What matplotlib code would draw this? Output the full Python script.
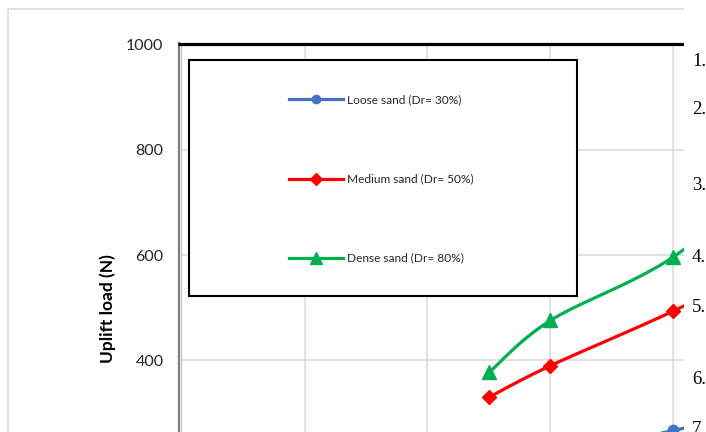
import numpy as np
import matplotlib
matplotlib.use("Agg")
import matplotlib.pyplot as plt
from matplotlib.lines import Line2D
from matplotlib.patches import Rectangle

# ---- data ----
embed_ratio = [2.5, 3.0, 4.0, 5.0]
loose_load = [160, 200, 267, 300]
medium_load = [330, 390, 494, 610]
dense_load = [377, 476, 597, 790]
series_names = ["Loose sand (Dr= 30%)", "Medium sand (Dr= 50%)", "Dense sand (Dr= 80%)"]
y_ticks = [400, 600, 800, 1000]
list_numbers = ["1.", "2.", "3.", "4.", "5.", "6.", "7."]

COLORS = ["#4472C4", "#FF0000", "#00B050"]
MARKERS = ["o", "D", "^"]
MSIZES = [7.5, 7.5, 10]

W, H = 706, 432
fig = plt.figure(figsize=(W / 100, H / 100), dpi=100)
fig.patch.set_facecolor("white")


def fx(px):
    return px / W


def fy(py):
    return 1 - py / H


def smooth(xs, ys, n=40):
    """Catmull-Rom style Bezier smoothing through every point."""
    P = np.column_stack([xs, ys]).astype(float)
    m = len(P)
    out = []
    for i in range(m - 1):
        p0 = P[i - 1] if i > 0 else P[i]
        p1, p2 = P[i], P[i + 1]
        p3 = P[i + 2] if i + 2 < m else P[i + 1]
        c1 = p1 + (p2 - p0) / 6
        c2 = p2 - (p3 - p1) / 6
        t = np.linspace(0, 1, n)[:, None]
        seg = ((1 - t) ** 3) * p1 + 3 * ((1 - t) ** 2) * t * c1 + 3 * (1 - t) * t ** 2 * c2 + t ** 3 * p2
        out.append(seg if i == 0 else seg[1:])
    seg = np.vstack(out)
    return seg[:, 0], seg[:, 1]


# main plotting axes (extends past the lower/right figure edges)
x0_px, unit_px = 181.5, 123.0
top_px, per200_px = 44.8, 105.2
bottom_px = top_px + 5 * per200_px
ax = fig.add_axes([fx(x0_px), fy(bottom_px), 6 * unit_px / W, (bottom_px - top_px) / H])
ax.set_xlim(0, 6)
ax.set_ylim(0, 1000)
ax.set_yticks(y_ticks)
ax.set_xticks([1, 2, 3, 4, 5])
ax.tick_params(axis="x", length=0, labelbottom=False)
ax.tick_params(axis="y", length=0, pad=13, labelsize=11.5, labelcolor="#262626")
for lab in ax.get_yticklabels():
    lab.set_fontfamily("Lato")
ax.grid(True, color="#d9d9d9", linewidth=1.1)
ax.set_axisbelow(True)
for s in ["left", "right", "bottom", "top"]:
    ax.spines[s].set_visible(False)

for ys, c, mk, ms, name in zip([loose_load, medium_load, dense_load], COLORS, MARKERS, MSIZES, series_names):
    sx, sy = smooth(embed_ratio, ys)
    ax.plot(sx, sy, color=c, lw=2.3, solid_capstyle="round", zorder=3)
    ax.plot(embed_ratio, ys, linestyle="none", marker=mk, ms=ms, color=c, zorder=4, label=name)

ax.set_ylabel("Uplift load (N)", fontfamily="Lato", fontweight="bold", fontsize=12.5,
              va="center", color="black")
ax.yaxis.set_label_coords((107.5 - x0_px) / (6 * unit_px), (bottom_px - 308.5) / (bottom_px - top_px))

# pixel-space overlay for frame, legend box and side text
ov = fig.add_axes([0, 0, 1, 1])
ov.set_xlim(0, W)
ov.set_ylim(H, 0)
ov.axis("off")
ov.patch.set_alpha(0)

# chart-area border
ov.plot([7.5, 7.5, 684], [H, 8.5, 8.5], color="#d9d9d9", lw=1.1)
# left axis double rule and heavy top rule
ov.plot([179, 179], [43, H], color="#7f7f7f", lw=1.6)
ov.plot([181.2, 181.2], [44, H], color="#c8c8c8", lw=1.0)
ov.plot([178, 684], [44.3, 44.3], color="black", lw=2.3, solid_capstyle="butt")

# legend box
ov.add_patch(Rectangle((189, 60), 388, 236, facecolor="white", edgecolor="black", lw=1.5, zorder=5))
leg_y = [99.3, 179, 257.7]
for yy, c, mk, ms, name in zip(leg_y, COLORS, MARKERS, MSIZES, series_names):
    ov.add_line(Line2D([289, 343], [yy, yy], color=c, lw=2.3, zorder=6))
    ov.add_line(Line2D([315.5], [yy], marker=mk, ms=ms * 0.8, color=c, zorder=7))
    ov.text(347, yy, name, fontfamily="Lato", fontsize=8.6, va="center", ha="left", color="#262626", zorder=7)

# white margin with the numbered list at the right
ov.add_patch(Rectangle((684, 0), W - 684, H, facecolor="white", edgecolor="none", zorder=8))
list_y = [61, 110, 185, 257, 308, 380, 429]
for yy, t in zip(list_y, list_numbers):
    ov.text(692, yy, t, fontfamily="Liberation Serif", fontsize=13.5, va="center", ha="left",
            color="black", zorder=9)

fig.savefig("out.png", dpi=100)
